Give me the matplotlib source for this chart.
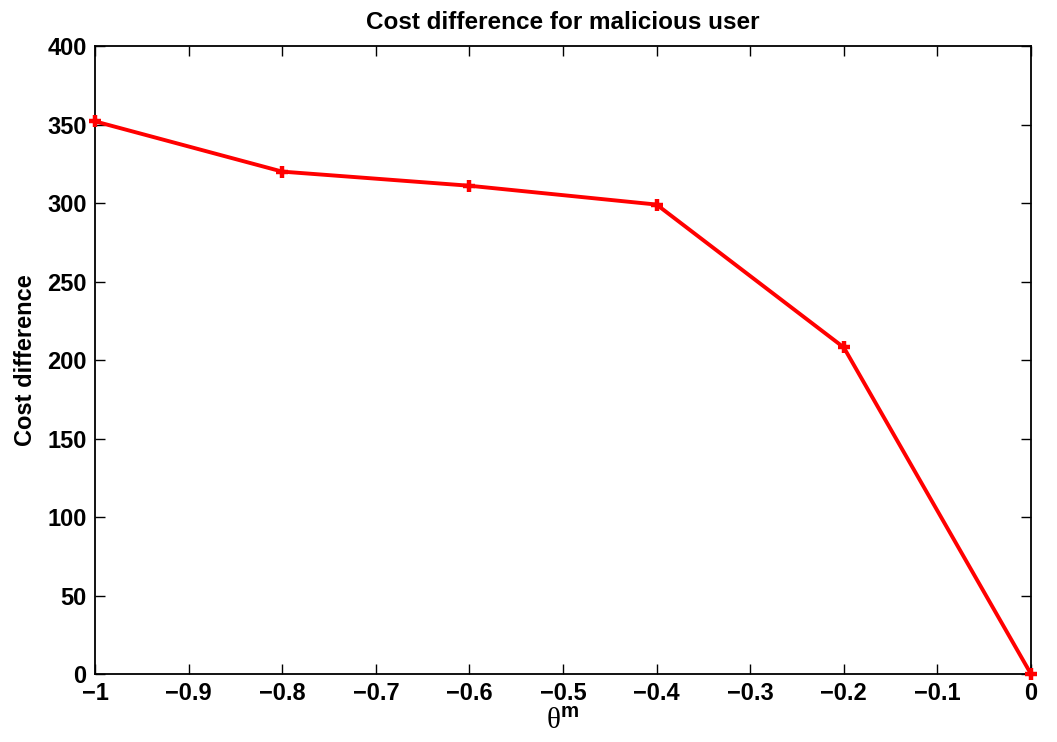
import matplotlib
matplotlib.use('Agg')
import matplotlib.pyplot as plt

# theta^m values and the matching cost difference
theta_m = [-1.0, -0.8, -0.6, -0.4, -0.2, 0.0]
cost_diff = [352, 320, 311, 299, 208, 0]

xticks = [-1, -0.9, -0.8, -0.7, -0.6, -0.5, -0.4, -0.3, -0.2, -0.1, 0]
xtick_labels = ['\u22121', '\u22120.9', '\u22120.8', '\u22120.7', '\u22120.6', '\u22120.5',
                '\u22120.4', '\u22120.3', '\u22120.2', '\u22120.1', '0']
yticks = [0, 50, 100, 150, 200, 250, 300, 350, 400]

plt.rcParams['font.family'] = ['Liberation Sans', 'DejaVu Sans']
plt.rcParams['font.weight'] = 'bold'
plt.rcParams['mathtext.fontset'] = 'custom'
plt.rcParams['mathtext.rm'] = 'Liberation Serif:normal'
plt.rcParams['mathtext.bf'] = 'Liberation Sans:bold'

fig = plt.figure(figsize=(10.57, 7.42), dpi=100)
ax = fig.add_axes([0.0899, 0.0916, 0.8855, 0.8464])

ax.plot(theta_m, cost_diff, color='red', linewidth=2.8, marker='+',
        markersize=8, markeredgewidth=3.2, clip_on=False, zorder=3)

ax.set_xlim(-1, 0)
ax.set_ylim(0, 400)
ax.set_xticks(xticks)
ax.set_xticklabels(xtick_labels)
ax.set_yticks(yticks)
ax.tick_params(direction='in', top=True, right=True, length=7, width=1,
               labelsize=17, pad=6)
for lbl in ax.get_xticklabels() + ax.get_yticklabels():
    lbl.set_fontweight('bold')
for sp in ax.spines.values():
    sp.set_linewidth(1.3)

ax.set_title('Cost difference for malicious user', fontsize=17.5, fontweight='bold', pad=12)
ax.set_ylabel('Cost difference', fontsize=17, fontweight='bold', labelpad=7)
ax.set_xlabel(r'$\mathrm{\theta}^{\mathbf{m}}$', fontsize=21, labelpad=1)

fig.savefig('out.png', dpi=100)
